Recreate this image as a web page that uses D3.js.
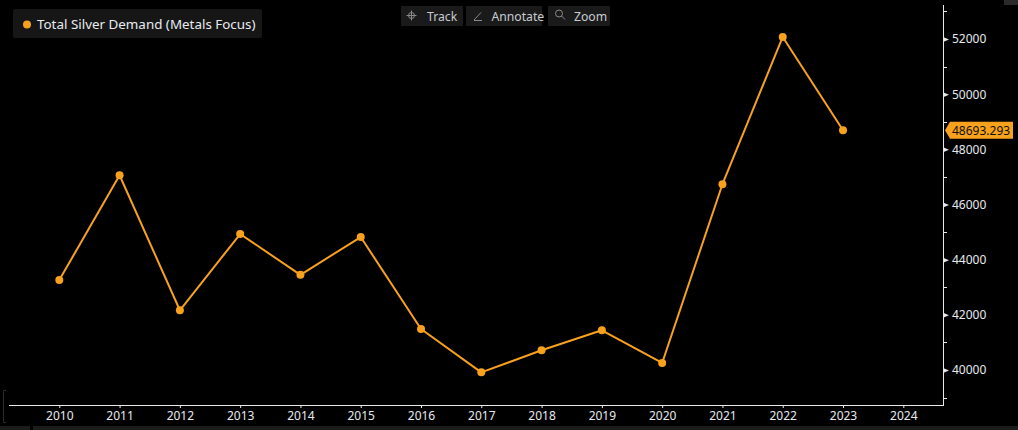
<!DOCTYPE html>
<html><head><meta charset="utf-8">
<script src="https://cdn.jsdelivr.net/npm/d3@7"></script>
<style>
html,body{margin:0;padding:0;background:#000;overflow:hidden;}
svg{display:block;}
</style></head>
<body>
<svg id="chart" width="1018" height="430"></svg>
<script>
const years = [2010,2011,2012,2013,2014,2015,2016,2017,2018,2019,2020,2021,2022,2023];
const demand = [43260,47060,42165,44930,43450,44820,41487,39915,40714,41440,40254,46735,52074,48693.293];
const xTickYears = [2010,2011,2012,2013,2014,2015,2016,2017,2018,2019,2020,2021,2022,2023,2024];
const yMajorTicks = [40000,42000,44000,46000,48000,50000,52000];
const yMinorTicks = [39000,41000,43000,45000,47000,49000,51000,53000];
const seriesName = "Total Silver Demand (Metals Focus)";
const lastLabel = "48693.293";
const toolbar = ["Track","Annotate","Zoom"];

const svg = d3.select("#chart");
const W = 1018, H = 430;
const orange = "#f7a11c";
const font = "'Noto Sans', 'Open Sans', sans-serif";

svg.append("rect").attr("width",W).attr("height",H).attr("fill","#000");

const x = d3.scaleLinear().domain([2010,2024]).range([59.3,903.3]);
const y = d3.scaleLinear().domain([40000,52000]).range([370,39]);
const axisX = 943, axisBottom = 405, axisTop = 5, axisLeft = 9;

// x axis
const xAxis = d3.axisBottom(x).tickValues(xTickYears).tickFormat(d3.format("d")).tickSize(3).tickPadding(3);
const gx = svg.append("g").attr("transform",`translate(0,${axisBottom})`).call(xAxis);
gx.select(".domain").remove();
gx.selectAll("line").attr("stroke","#e8e8e8");
gx.selectAll("text").attr("fill","#e6e9ee").attr("font-family",font).attr("font-size",12);
svg.append("line").attr("x1",axisLeft).attr("x2",axisX).attr("y1",axisBottom+0.5).attr("y2",axisBottom+0.5)
  .attr("stroke","#e8e8e8").attr("stroke-width",1);

// y axis
svg.append("line").attr("x1",axisX+0.5).attr("x2",axisX+0.5).attr("y1",axisTop).attr("y2",axisBottom+1)
  .attr("stroke","#e8e8e8").attr("stroke-width",1);
const yAxis = d3.axisRight(y).tickValues(yMajorTicks).tickFormat(d3.format("d")).tickSize(0).tickPadding(9);
const gy = svg.append("g").attr("transform",`translate(${axisX},0)`).call(yAxis);
gy.select(".domain").remove();
gy.selectAll("text").attr("fill","#e6e9ee").attr("font-family",font).attr("font-size",12);
gy.selectAll(".tick").append("path").attr("d","M0,-2.5L6,0L0,2.5Z").attr("fill","#e8e8e8");
svg.append("g").selectAll("line").data(yMinorTicks).join("line")
  .attr("x1",axisX).attr("x2",axisX+4)
  .attr("y1",d=>Math.round(y(d))+0.5).attr("y2",d=>Math.round(y(d))+0.5)
  .attr("stroke","#e8e8e8");

// left bracket
svg.append("path").attr("d","M6,390.5H3.5V422.5H6").attr("fill","none").attr("stroke","#2a2a2a");
// bottom strip
svg.append("rect").attr("x",0).attr("y",426).attr("width",30).attr("height",4).attr("fill","#1c1c1c");
svg.append("rect").attr("x",33).attr("y",426).attr("width",985).attr("height",4).attr("fill","#1c1c1c");
svg.append("rect").attr("x",1004).attr("y",0).attr("width",14).attr("height",5).attr("fill","#2a2a2a");

// line
const line = d3.line().x((d,i)=>x(years[i])).y(d=>y(d));
svg.append("path").datum(demand).attr("d",line).attr("fill","none")
  .attr("stroke",orange).attr("stroke-width",2).attr("stroke-linejoin","round");
svg.append("g").selectAll("circle").data(demand).join("circle")
  .attr("cx",(d,i)=>x(years[i])).attr("cy",d=>y(d)).attr("r",4).attr("fill",orange);

// last value label
const ly = y(demand[demand.length-1]);
svg.append("path").attr("d",`M945,${ly}L950,${ly-8.5}H1013V${ly+8.5}H950Z`).attr("fill",orange);
svg.append("text").attr("x",952).attr("y",ly+4.3).text(lastLabel)
  .attr("fill","#111").attr("font-family",font).attr("font-size",12);

// legend
svg.append("rect").attr("x",13).attr("y",9).attr("width",249).attr("height",29).attr("rx",2).attr("fill","#161616");
svg.append("circle").attr("cx",27).attr("cy",24.5).attr("r",4).attr("fill",orange);
svg.append("text").attr("x",37).attr("y",29).text(seriesName)
  .attr("fill","#e8ebf0").attr("font-family",font).attr("font-size",13.4);

// toolbar
const tb = [{x:401,w:62,tx:26},{x:466,w:76,tx:25.5},{x:548,w:62,tx:26}];
const tg = svg.append("g");
toolbar.forEach((t,i)=>{
  tg.append("rect").attr("x",tb[i].x).attr("y",6).attr("width",tb[i].w).attr("height",20).attr("fill","#1a1a1a");
  tg.append("text").attr("x",tb[i].x+tb[i].tx).attr("y",20.5).text(t)
    .attr("fill","#c8ccd2").attr("font-family",font).attr("font-size",12.2);
});
// icons
const ic = "#8a8a8a";
tg.append("circle").attr("cx",411.5).attr("cy",15.5).attr("r",3).attr("fill","none").attr("stroke",ic);
tg.append("path").attr("d","M411.5,10.5V20.5M406.5,15.5H416.5").attr("stroke",ic);
tg.append("path").attr("d","M474,20L481,12.5M474,20.5H482").attr("stroke",ic).attr("fill","none");
tg.append("circle").attr("cx",559).attr("cy",13.5).attr("r",3.5).attr("fill","none").attr("stroke",ic);
tg.append("path").attr("d","M561.5,16L565,19.5").attr("stroke",ic);
</script>
</body></html>
